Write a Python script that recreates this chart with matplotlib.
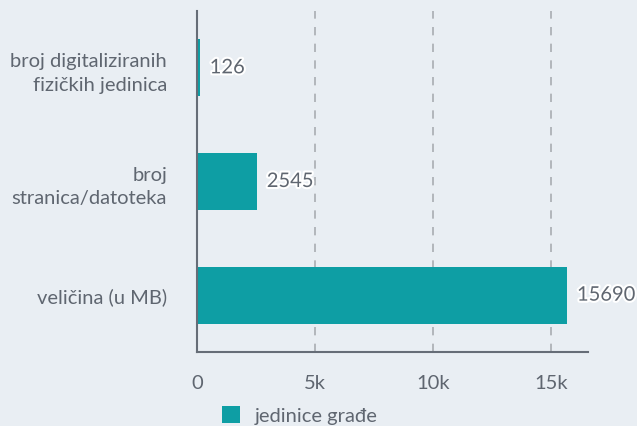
import matplotlib
matplotlib.use('Agg')
import matplotlib.pyplot as plt
import matplotlib.patheffects as pe
import numpy as np

plt.rcParams['font.family'] = ['Lato', 'DejaVu Sans']

categories = ['broj digitaliziranih\nfizičkih jedinica', 'broj\nstranica/datoteka', 'veličina (u MB)']
values = [126, 2545, 15690]
series_name = 'jedinice građe'
xticks = [0, 5000, 10000, 15000]
xtick_labels = ['0', '5k', '10k', '15k']

bg = '#e9eef3'
bar_color = '#0e9ea4'
text_color = '#5f6670'
axis_color = '#666d77'
fs = 14.5

fig = plt.figure(figsize=(6.37, 4.27), dpi=100)
fig.patch.set_facecolor(bg)
ax = fig.add_axes([197 / 637, 74 / 427, 391 / 637, 341 / 427])
ax.set_facecolor('none')

y = np.arange(len(categories))
bars = ax.barh(y, values, height=0.5, color=bar_color, label=series_name, zorder=3)

ax.set_ylim(2.5, -0.5)
ax.set_xlim(0, 16570)
ax.set_yticks(y)
ax.set_yticklabels(categories, fontsize=fs, color=text_color, linespacing=1.45)
ax.set_xticks(xticks)
ax.set_xticklabels(xtick_labels, fontsize=fs, color=text_color)
ax.tick_params(axis='both', length=0)
ax.tick_params(axis='y', pad=21.5)
ax.tick_params(axis='x', pad=16)

ax.grid(axis='x', linestyle=(0, (5, 5)), color='#a9adb2', linewidth=1.2, zorder=0)
ax.grid(axis='y', visible=False)
for s in ['top', 'right']:
    ax.spines[s].set_visible(False)
for s in ['left', 'bottom']:
    ax.spines[s].set_color(axis_color)
    ax.spines[s].set_linewidth(1.5)
    ax.spines[s].set_zorder(4)

for i, v in enumerate(values):
    ax.annotate(str(v), (v, i), xytext=(7, 0), textcoords='offset points',
                va='center', ha='left', fontsize=fs, color=text_color, zorder=5,
                path_effects=[pe.withStroke(linewidth=3, foreground='white')])

ax.legend(loc='upper left', bbox_to_anchor=(204 / 637, 1 - 389 / 427),
          bbox_transform=fig.transFigure, frameon=False, fontsize=fs,
          labelcolor=text_color, handlelength=0.9, handleheight=0.9,
          handletextpad=0.7)

fig.savefig('out.png', dpi=100, facecolor=bg)
